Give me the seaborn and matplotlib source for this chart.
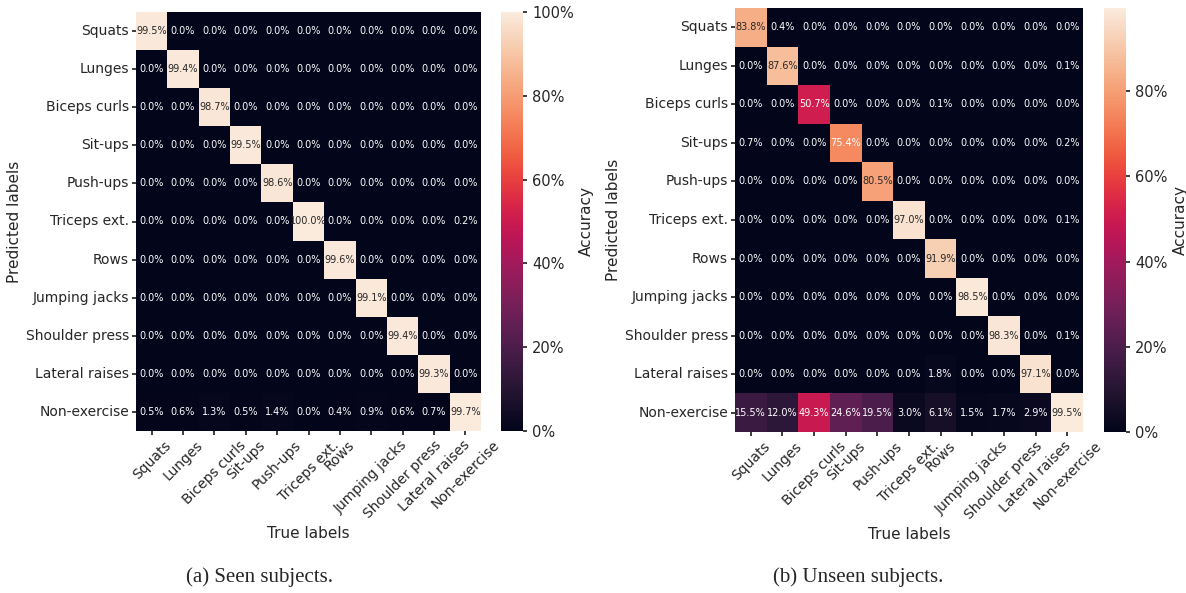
import numpy as np
import pandas as pd
import matplotlib
matplotlib.use("Agg")
import matplotlib.pyplot as plt
import seaborn as sns
from matplotlib.ticker import PercentFormatter

cwiczenia = ["Squats", "Lunges", "Biceps curls", "Sit-ups", "Push-ups", "Triceps ext.",
             "Rows", "Jumping jacks", "Shoulder press", "Lateral raises", "Non-exercise"]

# accuracy in %, rows = predicted, cols = true
seen = [
    [99.5, 0.0, 0.0, 0.0, 0.0, 0.0, 0.0, 0.0, 0.0, 0.0, 0.0],
    [0.0, 99.4, 0.0, 0.0, 0.0, 0.0, 0.0, 0.0, 0.0, 0.0, 0.0],
    [0.0, 0.0, 98.7, 0.0, 0.0, 0.0, 0.0, 0.0, 0.0, 0.0, 0.0],
    [0.0, 0.0, 0.0, 99.5, 0.0, 0.0, 0.0, 0.0, 0.0, 0.0, 0.0],
    [0.0, 0.0, 0.0, 0.0, 98.6, 0.0, 0.0, 0.0, 0.0, 0.0, 0.0],
    [0.0, 0.0, 0.0, 0.0, 0.0, 100.0, 0.0, 0.0, 0.0, 0.0, 0.2],
    [0.0, 0.0, 0.0, 0.0, 0.0, 0.0, 99.6, 0.0, 0.0, 0.0, 0.0],
    [0.0, 0.0, 0.0, 0.0, 0.0, 0.0, 0.0, 99.1, 0.0, 0.0, 0.0],
    [0.0, 0.0, 0.0, 0.0, 0.0, 0.0, 0.0, 0.0, 99.4, 0.0, 0.0],
    [0.0, 0.0, 0.0, 0.0, 0.0, 0.0, 0.0, 0.0, 0.0, 99.3, 0.0],
    [0.5, 0.6, 1.3, 0.5, 1.4, 0.0, 0.4, 0.9, 0.6, 0.7, 99.7],
]

unseen = [
    [83.8, 0.4, 0.0, 0.0, 0.0, 0.0, 0.0, 0.0, 0.0, 0.0, 0.0],
    [0.0, 87.6, 0.0, 0.0, 0.0, 0.0, 0.0, 0.0, 0.0, 0.0, 0.1],
    [0.0, 0.0, 50.7, 0.0, 0.0, 0.0, 0.1, 0.0, 0.0, 0.0, 0.0],
    [0.7, 0.0, 0.0, 75.4, 0.0, 0.0, 0.0, 0.0, 0.0, 0.0, 0.2],
    [0.0, 0.0, 0.0, 0.0, 80.5, 0.0, 0.0, 0.0, 0.0, 0.0, 0.0],
    [0.0, 0.0, 0.0, 0.0, 0.0, 97.0, 0.0, 0.0, 0.0, 0.0, 0.1],
    [0.0, 0.0, 0.0, 0.0, 0.0, 0.0, 91.9, 0.0, 0.0, 0.0, 0.0],
    [0.0, 0.0, 0.0, 0.0, 0.0, 0.0, 0.0, 98.5, 0.0, 0.0, 0.0],
    [0.0, 0.0, 0.0, 0.0, 0.0, 0.0, 0.0, 0.0, 98.3, 0.0, 0.1],
    [0.0, 0.0, 0.0, 0.0, 0.0, 0.0, 1.8, 0.0, 0.0, 97.1, 0.0],
    [15.5, 12.0, 49.3, 24.6, 19.5, 3.0, 6.1, 1.5, 1.7, 2.9, 99.5],
]

podpisy = ["(a) Seen subjects.", "(b) Unseen subjects."]

sns.set_theme(style="ticks")
plt.rcParams["font.family"] = ["DejaVu Sans"]

W, H = 1186, 593
fig = plt.figure(figsize=(W / 100, H / 100), dpi=100)


def box(x0, y0, x1, y1):
    return [x0 / W, 1 - y1 / H, (x1 - x0) / W, (y1 - y0) / H]


uklad = [
    (box(136, 12, 481, 431), box(501, 12, 523, 431), 260),
    (box(735, 8, 1083, 432), box(1104, 8, 1126, 432), 858),
]

for dane, podpis, (pos_ax, pos_cb, xc) in zip([seen, unseen], podpisy, uklad):
    df = pd.DataFrame(np.array(dane) / 100, index=cwiczenia, columns=cwiczenia)
    ax = fig.add_axes(pos_ax)
    cax = fig.add_axes(pos_cb)
    sns.heatmap(df, ax=ax, cbar_ax=cax, annot=True, fmt=".1%",
                annot_kws={"fontsize": 7}, vmin=0,
                cbar_kws={"format": PercentFormatter(xmax=1, decimals=0)})
    ax.set_xticklabels(cwiczenia, rotation=45, ha="center", fontsize=10)
    ax.set_yticklabels(cwiczenia, rotation=0, fontsize=10)
    ax.tick_params(length=3, pad=2)
    ax.set_xlabel("True labels", fontsize=11)
    ax.set_ylabel("Predicted labels", fontsize=11, labelpad=3)
    cbar = ax.collections[0].colorbar
    cbar.ax.tick_params(labelsize=10.5, length=3)
    cbar.set_label("Accuracy", fontsize=11)
    fig.text(xc / W, 1 - 577 / H, podpis, ha="center", va="center",
             fontsize=15, family=["Liberation Serif", "DejaVu Serif"])

fig.savefig("out.png", dpi=100)
